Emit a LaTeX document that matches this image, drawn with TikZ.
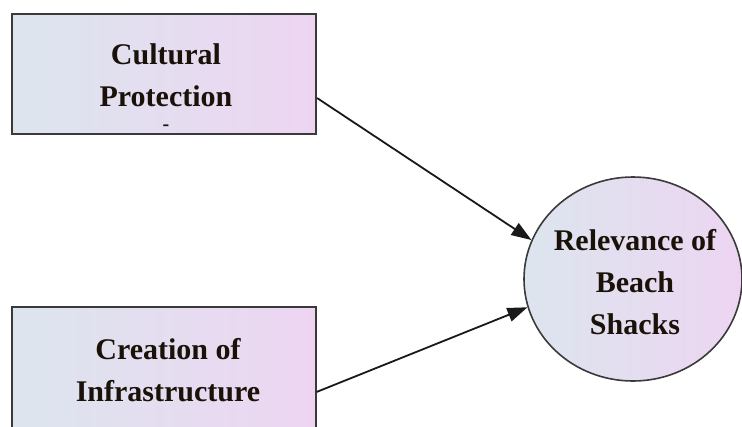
\documentclass[tikz,border=0pt]{standalone}
\usepackage{fontspec}
\setmainfont{Liberation Serif}
\usetikzlibrary{arrows.meta,shapes.geometric}
\definecolor{leftc}{HTML}{DCE5EE}
\definecolor{rightc}{HTML}{EDD5F2}
\definecolor{edge}{HTML}{3A3A3A}
\definecolor{ink}{HTML}{1A1208}
\tikzset{
  lbl/.style={font=\fontsize{30}{42}\selectfont\bfseries, text=ink, align=center},
  boxnode/.style={draw=edge, line width=2pt, left color=leftc, right color=rightc, shading angle=90, minimum width=304pt, inner sep=0pt},
  ellnode/.style={ellipse, draw=edge, line width=1.6pt, left color=leftc, right color=rightc, minimum width=218pt, minimum height=204pt, inner sep=0pt},
  conn/.style={line width=1.8pt, draw=black!90, -{Triangle[length=20pt,width=14pt]}}
}
\begin{document}
\begin{tikzpicture}[x=1pt,y=-1pt]
\useasboundingbox (0,0) rectangle (742,426);
\clip (0,0) rectangle (742,426);
\node[boxnode, minimum height=120pt] (cp) at (164,73.5) {};
\node[lbl] (cpt) at (166,75) {Cultural\\Protection};
\node[font=\fontsize{20}{20}\selectfont\bfseries, text=ink, inner sep=0pt] (cpd) at (166,128) {-};
\node[boxnode, minimum height=128pt] (ci) at (163.5,371) {};
\node[lbl] (cit) at (168,370) {Creation of\\Infrastructure};
\node[ellnode] (rel) at (633,279) {};
\node[lbl] (relt) at (635,282) {Relevance of\\Beach\\Shacks};
\draw[conn] ([yshift=-24.5pt]cp.east) -- (rel.159);
\draw[conn] ([yshift=-21pt]ci.east) -- (rel.195);
\end{tikzpicture}
\end{document}
